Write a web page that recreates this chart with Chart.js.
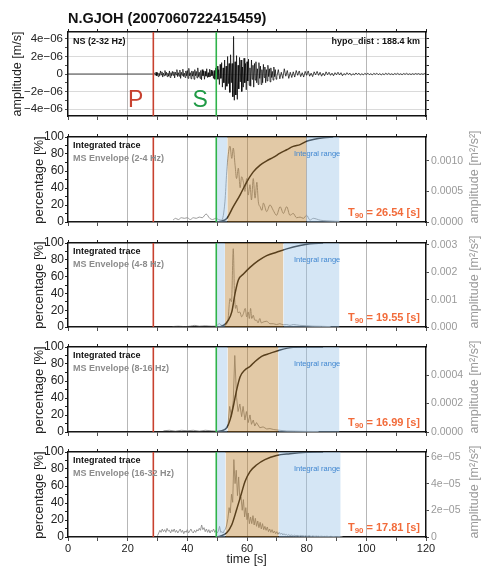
<!DOCTYPE html>
<html><head><meta charset="utf-8">
<script src="https://cdn.jsdelivr.net/npm/chart.js@4.4.1/dist/chart.umd.min.js"></script>
<style>
html,body{margin:0;padding:0;background:#fff;}
body{width:481px;height:566px;overflow:hidden;position:relative;font-family:"Liberation Sans",Arial,sans-serif;}
canvas{position:absolute;left:0;}
.t{position:absolute;white-space:nowrap;line-height:1;}
.rot{position:absolute;white-space:nowrap;line-height:1;transform:translate(-50%,-50%) rotate(-90deg);}
sub{font-size:0.72em;vertical-align:-0.3em;line-height:0;}
</style></head><body>
<script>
// ---------------- DATA ----------------
const stationTitle = "N.GJOH (2007060722415459)";
const componentLabel = "NS (2-32 Hz)";
const hypoLabel = "hypo_dist : 188.4 km";
const bandLabels = ["2-4 Hz","4-8 Hz","8-16 Hz","16-32 Hz"];
const t90Values = ["26.54","19.55","16.99","17.81"];

const pArrival = 28.6, sArrival = 49.7;

const timeTicks = [0,10,20,30,40,50,60,70,80,90,100,110,120];
const timeLabelValues = [0,20,40,60,80,100,120];
const timeLabels = ["0","20","40","60","80","100","120"];
const timeGridValues = [20,40,60,80,100];

const pctTicks = [0,10,20,30,40,50,60,70,80,90,100];
const pctLabelValues = [0,20,40,60,80,100];
const pctLabels = ["0","20","40","60","80","100"];

// seismogram, amplitude in 1e-06 m/s
const seisTicks = [-4,-3,-2,-1,0,1,2,3,4];
const seisLabelValues = [-4,-2,0,2,4];
const seisLabels = ["\u22124e\u221206","\u22122e\u221206","0","2e\u221206","4e\u221206"];
const seisGridValues = [-4,-2,0,2,4];
const seisA_t0 = 28.5, seisA_dt = 0.25;
const seisA = [
 0,0,0.1,-0.15,0.2,-0.2,
 0.15,-0.3,0.1,-0.2,0.35,-0.1,0.25,-0.35,0.1,-0.2,0.4,-0.15,0.2,-0.3,0.1,-0.25,0.35,-0.4,0.15,-0.2,
 0.3,-0.15,0.25,-0.45,0.2,-0.1,0.5,-0.3,0.15,-0.25,0.45,-0.5,0.2,-0.15,0.55,-0.3,0.1,-0.4,0.35,-0.2,
 0.4,-0.5,0.65,-0.2,0.15,-0.55,0.35,-0.25,0.3,-0.6,0.5,-0.2,0.3,-0.45,0.7,-0.3,0.2,-0.5,0.4,-0.65,
 0.5,-0.2,0.35,-0.6,0.3,-0.25,0.6,-0.4,0.15,-0.35,0.55,-0.3,0.45,-0.2,0.3,-0.5,0.4,-0.6,0.7,-0.4,
 0.9,-0.6,0.5,-1.2,1.1,-0.5,1.3,-1.5,0.7,-1.0,1.6,-1.8,0.9,-1.4,2.0,-1.1,1.2,-2.1,2.2,-1.0,
 1.2,-2.6,4.3,-3.0,1.4,-2.4,2.1,-2.9,1.0,-1.7,1.9,-0.9,1.6,-2.0,0.8,-1.5,1.8,-1.0,1.2,-1.8,
 1.4,-0.8,1.7,-1.3,0.7,-1.4,1.6,-0.6,1.0,-1.5,1.2,-0.7,1.4,-1.0,0.6,-1.2,1.3,-0.5,0.9,-1.2,
 0.5,-1.0,1.1,-0.4,0.8,-1.0,0.5,-0.8,1.0,-0.3,0.6,-0.9,0.7,-0.4,0.3,-0.7,0.8,-0.3,0.5,-0.6
];
const seisB_t0 = 70, seisB_dt = 0.5;
const seisB = [
 -0.3,0.5,-0.55,0.2,-0.5,0.6,-0.25,0.4,-0.5,0.2,
 -0.4,0.25,-0.35,0.4,-0.15,0.35,-0.3,0.15,-0.35,0.3,
 -0.15,0.35,-0.25,0.1,-0.3,0.25,-0.1,0.3,-0.15,0.2,
 -0.25,0.1,-0.2,0.25,-0.08,0.2,-0.15,0.1,-0.2,0.15,
 -0.08,0.2,-0.1,0.15,-0.2,0.06,-0.1,0.15,-0.05,0.1,
 -0.15,0.05,-0.1,0.12,-0.05,0.1,-0.12,0.04,-0.1,0.08,
 -0.05,0.1,-0.08,0.04,-0.1,0.08,-0.04,0.1,-0.08,0.05,
 -0.1,0.04,-0.08,0.1,-0.05,0.08,-0.06,0.03,-0.08,0.06,
 -0.04,0.08,-0.06,0.03,-0.08,0.06,-0.04,0.08,-0.06,0.03,
 -0.06,0.04,-0.05,0.06,-0.03,0.05,-0.05,0.03,-0.04,0.05,0
];

// integrated traces (percentage)
const tr1T = [0,49.6,51.5,53.2,55.4,57.7,59.9,62.1,64.4,66.6,68.8,71.1,73.3,75.5,77.8,80.0,82.2,85.6,88.9];
const tr1V = [0,0,1,4,18,32,47,59,67,72,76,81,85,89,91,95,97,99,100];
const tr2T = [0,49.6,52.1,53.7,54.9,56.0,57.1,58.8,61.0,63.8,66.6,69.9,73.3,77.8,81.1,85.5];
const tr2V = [0,0,2,8,18,40,56,63,71,79,85,89,93,97,99,100];
const tr3T = [0,49.6,51.0,53.2,54.3,55.4,56.5,57.7,59.3,61.0,62.7,64.9,67.7,71.1,75.5,80.0,85.5];
const tr3V = [0,0,1,5,14,30,49,65,73,77,83,89,92.5,96.5,99.6,100,100];
const tr4T = [0,49.6,51.0,53.2,54.9,56.5,58.2,59.3,61.0,63.3,66.0,69.9,74.4,80.0,85.5];
const tr4V = [0,0,1,5,14.5,32,52,65,77,85,91,96,98,99.6,100];

// MS envelopes (m^2/s^2)
const env1T = [35.2,36,37,38,39,40,41,42,43,44,45,46.3,47.5,48.5,49.5,50.5,51.5,52.6,53.2,53.7,54.3,54.9,55.4,56.0,56.5,57.1,57.7,58.2,58.8,59.3,59.9,60.4,61.0,61.5,62.1,62.7,63.3,63.8,64.4,65.0,65.5,66.6,67.7,68.8,69.9,71.1,72.2,73.3,74.4,75.5,76.6,77.8,78.9,80.0,81.1,82.2,84.5,86.5,88.9,91];
const env1V = [0.00003,0.00006,0.00004,0.00007,0.00006,0.00007,0.00004,0.00007,0.00006,0.00008,0.00007,0.00013,0.00006,0.00004,0.00006,0.00004,0.00003,0.00033,0.00082,0.00110,0.00124,0.00104,0.00121,0.00093,0.00071,0.00088,0.00056,0.00074,0.00065,0.00050,0.00071,0.00044,0.00061,0.00036,0.00071,0.00039,0.00065,0.00033,0.00025,0.00019,0.00031,0.00017,0.00028,0.00019,0.00011,0.00025,0.00014,0.00025,0.00011,0.00014,0.00007,0.00008,0.00006,0.00011,0.00003,0.00006,0.00003,0.00002,0.000014,0.00001];
const env1Max = 0.00139, env1Ticks = [0,0.0005,0.001], env1Labels = ["0.0000","0.0005","0.0010"];

const env2T = [35,37,39,41,42.5,44,46,48,49.5,50.8,51.5,52.5,53.6,54.3,54.8,55.4,55.8,56.2,56.5,57.0,57.6,58.2,58.8,59.4,59.9,60.4,60.8,61.2,61.6,62.1,62.6,63.2,63.7,64.3,64.8,65.4,66.6,67.7,68.8,69.9,71,72.1,73.3,74.4,75.5,77.7,80,82.2,85,88];
const env2V = [0.000015,0.00003,0.000015,0.00003,0.00006,0.00003,0.000046,0.00003,0.00003,0.00012,0.00006,0.00006,0.00025,0.00104,0.00092,0.00286,0.00123,0.00068,0.0008,0.00052,0.00055,0.00037,0.00049,0.00068,0.00037,0.00055,0.00031,0.00068,0.00031,0.00043,0.00025,0.00025,0.00015,0.00031,0.00015,0.00018,0.00021,0.00012,0.00012,0.00009,0.00012,0.00008,0.00009,0.00006,0.00009,0.00006,0.000046,0.00003,0.000025,0.000015];
const env2Max = 0.00307, env2Ticks = [0,0.001,0.002,0.003], env2Labels = ["0.000","0.001","0.002","0.003"];

const env3T = [32,34,36,38,40,42,44,46,48,49.5,51,52,53.1,53.6,54.2,54.8,55.4,55.9,56.5,57.0,57.6,58.2,58.7,59.3,59.8,60.4,61.0,61.5,62.1,62.6,63.2,64.3,65.4,66.6,67.7,68.8,71.0,73.3,76,80,84];
const env3V = [0.000009,0.000012,0.000006,0.000012,0.000009,0.000012,0.000006,0.000012,0.000009,0.000006,0.000009,0.000012,0.000024,0.000048,0.00018,0.000108,0.000221,0.000538,0.000245,0.000144,0.000197,0.000108,0.00018,0.000084,0.000144,0.000066,0.00012,0.000054,0.000084,0.000042,0.000066,0.00003,0.000036,0.000021,0.000024,0.000018,0.000012,0.000007,0.000006,0.000004,0.000003];
const env3Max = 0.000598, env3Ticks = [0,0.0002,0.0004], env3Labels = ["0.0000","0.0002","0.0004"];

// 16-32 Hz envelope in units of 1e-05 m^2/s^2, sampled every 0.4 s from 30.0 s
const env4_t0 = 30.0, env4_dt = 0.4;
const env4V = [
 0.1,0.3,0.5,0.35,0.6,0.4,0.55,0.35,0.65,0.45,
 0.5,0.3,0.55,0.4,0.6,0.35,0.5,0.3,0.45,0.6,
 0.35,0.5,0.25,0.45,0.35,0.55,0.3,0.45,0.6,0.4,
 0.3,0.5,0.35,0.55,0.45,0.65,0.5,0.9,0.55,0.7,
 0.4,0.6,0.35,0.55,0.3,0.5,0.4,0.6,0.35,0.5,
 0.3,0.45,0.8,0.35,0.4,0.3,0.5,0.6,0.9,1.4,
 2.2,1.8,3.2,2.6,5.8,4.0,5.0,3.1,4.5,2.8,
 3.0,2.0,2.8,1.5,2.2,1.3,1.8,1.0,1.5,1.0,
 1.6,0.9,1.4,0.8,1.2,0.7,1.1,0.6,1.0,0.55,
 0.8,0.5,0.75,0.4,0.6,0.35,0.55,0.3,0.45,0.25,
 0.4,0.2,0.35,0.2,0.3,0.15,0.25,0.15,0.2,0.12,
 0.18,0.1,0.15,0.12,0.1,0.14,0.08,0.12,0.1,0.08,
 0.12,0.08,0.1,0.06,0.1,0.08,0.06,0.1,0.07,0.05,
 0.08,0.06,0.05,0.07,0.05,0.06,0.04,0.06,0.05,0.04,
 0.05,0.04,0.06,0.04,0.03,0.05,0.04,0.03,0.04,0.03,
 0.03,0.04,0.03,0.02,0.03,0.02
];
const env4Max = 6.37, env4Ticks = [0,2,4,6], env4Labels = ["0","2e\u221205","4e\u221205","6e\u221205"];

// integral range (blue) and T90 window (tan) per band, seconds
const blueStart = [49.7,49.7,49.7,49.7];
const tanStart  = [53.4,52.6,53.5,52.8];
const tanEnd    = [79.9,72.2,70.5,70.6];
const blueEnd   = [91.0,91.0,91.0,91.4];

// ---------------- RENDER ----------------
const FONT = '"Liberation Sans", Arial, sans-serif';
Chart.defaults.font.family = FONT;
const W = 490;
const panels = [{top:32,bottom:116},{top:137,bottom:222},{top:243,bottom:327},{top:347,bottom:432},{top:452,bottom:537}];
const COL_P = '#c8412f', COL_S = '#2fb34a';
const COL_TAN = 'rgba(182,120,32,0.40)', COL_BLUE = 'rgba(150,192,230,0.40)';

function pairs(T, V){ return T.map((t,i)=>({x:t,y:V[i]})); }
function stepped(t0, dt, V){ return V.map((v,i)=>({x:t0+i*dt,y:v})); }
function labelFor(v, vals, labs){ const i = vals.findIndex(a=>Math.abs(a-v)<1e-9); return i>=0 ? labs[i] : ''; }
function setTicks(arr){ return s => { s.ticks = arr.map(v=>({value:v})); }; }

function vline(x, y0, y1, color, axis){
  return {data:[{x:x,y:y0},{x:x,y:y1}], borderColor:color, borderWidth:1.6, pointRadius:0, yAxisID:axis, order:-2};
}
function band(x0, x1, color){
  return {data:[{x:x0,y:100},{x:x1,y:100}], borderWidth:0, borderColor:'rgba(0,0,0,0)', backgroundColor:color, fill:'origin', pointRadius:0, yAxisID:'y', order:0};
}

function xBottom(showLabels, h){
  return {type:'linear', position:'bottom', min:0, max:120,
    afterBuildTicks:setTicks(timeTicks), afterFit:s=>{s.height=h;},
    ticks:{display:showLabels, autoSkip:false, maxRotation:0, padding:1, color:'#222', font:{size:11}, callback:v=>labelFor(v,timeLabelValues,timeLabels)},
    grid:{color:c=>(c.tick && timeGridValues.includes(c.tick.value)) ? 'rgba(90,90,90,0.55)' : 'rgba(0,0,0,0)', lineWidth:0.8, tickColor:'#222', tickLength:4},
    border:{color:'#111', width:1.5}};
}
function xTop(){
  return {type:'linear', position:'top', min:0, max:120,
    afterBuildTicks:setTicks(timeTicks), afterFit:s=>{s.height=10;},
    ticks:{display:false}, grid:{drawOnChartArea:false, tickColor:'#222', tickLength:3},
    border:{color:'#111', width:1.5}};
}

function makeCanvas(top, h){
  const c = document.createElement('canvas');
  c.width = W; c.height = h; c.style.top = top + 'px'; c.style.width = W+'px'; c.style.height = h+'px';
  document.body.appendChild(c); return c;
}
const baseOpts = {responsive:false, animation:false, devicePixelRatio:1, events:[],
  layout:{padding:0}, plugins:{legend:{display:false}, tooltip:{enabled:false}}};

// Panel 1: seismogram
(function(){
  const p = panels[0]; const bottomH = 10;
  const c = makeCanvas(p.top-10, (p.bottom-p.top)+10+bottomH);
  const seis = [{x:0,y:0}].concat(stepped(seisA_t0,seisA_dt,seisA), stepped(seisB_t0,seisB_dt,seisB));
  new Chart(c, {type:'line', data:{datasets:[
    vline(pArrival,-4.8,4.8,COL_P,'y'),
    vline(sArrival,-4.8,4.8,COL_S,'y'),
    {data:seis, borderColor:'#000', borderWidth:0.7, pointRadius:0, tension:0, yAxisID:'y', order:5}
  ]}, options:Object.assign({}, baseOpts, {scales:{
    x: xBottom(false, bottomH), xt: xTop(),
    y: {type:'linear', position:'left', min:-4.8, max:4.8, afterBuildTicks:setTicks(seisTicks), afterFit:s=>{s.width=68;},
        ticks:{autoSkip:false, padding:2, color:'#222', font:{size:11.5}, callback:v=>labelFor(v,seisLabelValues,seisLabels)},
        grid:{color:c=>(c.tick && seisGridValues.includes(c.tick.value)) ? 'rgba(150,150,150,0.45)' : 'rgba(0,0,0,0)', lineWidth:0.8, tickColor:'#222', tickLength:3},
        border:{color:'#111', width:1.5}},
    y1:{type:'linear', position:'right', min:-4.8, max:4.8, afterBuildTicks:setTicks(seisTicks), afterFit:s=>{s.width=W-426;},
        ticks:{display:false}, grid:{drawOnChartArea:false, tickColor:'#222', tickLength:3}, border:{color:'#111', width:1.5}}
  }})});
})();

// Panels 2-5
const traces = [pairs(tr1T,tr1V), pairs(tr2T,tr2V), pairs(tr3T,tr3V), pairs(tr4T,tr4V)];
const envs = [pairs(env1T,env1V), pairs(env2T,env2V), pairs(env3T,env3V), stepped(env4_t0,env4_dt,env4V)];
const envMax = [env1Max, env2Max, env3Max, env4Max];
const envTicks = [env1Ticks, env2Ticks, env3Ticks, env4Ticks];
const envLabels = [env1Labels, env2Labels, env3Labels, env4Labels];
const envSmooth = [true, true, false, false];

for (let k=0;k<4;k++){
  const p = panels[k+1]; const last = (k===3); const bottomH = last ? 29 : 10;
  const c = makeCanvas(p.top-10, (p.bottom-p.top)+10+bottomH);
  new Chart(c, {type:'line', data:{datasets:[
    vline(pArrival,0,100,COL_P,'y'),
    vline(sArrival,0,100,COL_S,'y'),
    band(blueStart[k], tanStart[k], COL_BLUE),
    band(tanStart[k], tanEnd[k], COL_TAN),
    band(tanEnd[k], blueEnd[k], COL_BLUE),
    {data:traces[k], borderColor:'#1a1a1a', borderWidth:1.5, pointRadius:0, cubicInterpolationMode:'monotone', yAxisID:'y', order:5},
    {data:envs[k], borderColor:'#8f8f8f', borderWidth:0.9, pointRadius:0,
     cubicInterpolationMode: envSmooth[k] ? 'monotone' : 'default', tension:0, yAxisID:'y1', order:6}
  ]}, options:Object.assign({}, baseOpts, {scales:{
    x: xBottom(last, bottomH), xt: xTop(),
    y: {type:'linear', position:'left', min:0, max:100, afterBuildTicks:setTicks(pctTicks), afterFit:s=>{s.width=68;},
        ticks:{autoSkip:false, padding:1, color:'#222', font:{size:12}, callback:v=>labelFor(v,pctLabelValues,pctLabels)},
        grid:{drawOnChartArea:false, tickColor:'#222', tickLength:3}, border:{color:'#111', width:1.5}},
    y1:{type:'linear', position:'right', min:0, max:envMax[k], afterBuildTicks:setTicks(envTicks[k]), afterFit:s=>{s.width=W-426;},
        ticks:{autoSkip:false, padding:2, color:'#999', font:{size:10.5}, callback:v=>labelFor(v,envTicks[k],envLabels[k])},
        grid:{drawOnChartArea:false, tickColor:'#444', tickLength:3}, border:{color:'#111', width:1.5}}
  }})});
}

// ---------------- TEXT ----------------
function txt(html, style, cls){ const d=document.createElement('div'); d.className=cls||'t'; d.innerHTML=html; d.style.cssText+=style; document.body.appendChild(d); return d; }
txt(stationTitle, 'left:68px;top:11px;font-size:14.5px;font-weight:bold;color:#111;');
txt(componentLabel, 'left:73px;top:36.5px;font-size:9px;font-weight:bold;color:#111;');
txt(hypoLabel, 'right:61px;top:36.5px;font-size:9px;font-weight:bold;color:#111;');
txt('P', 'left:128px;top:88px;font-size:23px;color:'+COL_P+';');
txt('S', 'left:192.5px;top:88px;font-size:23px;color:#1f9a45;');
txt('amplitude [m/s]', 'left:17px;top:74px;font-size:12.5px;color:#222;', 'rot');
for (let k=0;k<4;k++){
  const p = panels[k+1];
  txt('Integrated trace', 'left:73px;top:'+(p.top+3.5)+'px;font-size:9px;font-weight:bold;color:#111;');
  txt('MS Envelope ('+bandLabels[k]+')', 'left:73px;top:'+(p.top+17)+'px;font-size:9px;font-weight:bold;color:#8c8c8c;');
  txt('Integral range', 'left:294px;top:'+(p.top+12.6)+'px;font-size:7.5px;color:#3f86d0;');
  txt('T<sub>90</sub> = '+t90Values[k]+' [s]', 'right:61px;top:'+(p.bottom-15.4)+'px;font-size:11px;font-weight:bold;color:#f26b3a;');
  txt('percentage [%]', 'left:38px;top:'+((p.top+p.bottom)/2)+'px;font-size:13px;color:#222;', 'rot');
  txt('amplitude [m\u00b2/s\u00b2]', 'left:474px;top:'+((p.top+p.bottom)/2-3)+'px;font-size:12.5px;color:#999;', 'rot');
}
txt('time [s]', 'left:246.7px;top:552.5px;font-size:12.5px;color:#222;transform:translateX(-50%);');
</script>
</body></html>
